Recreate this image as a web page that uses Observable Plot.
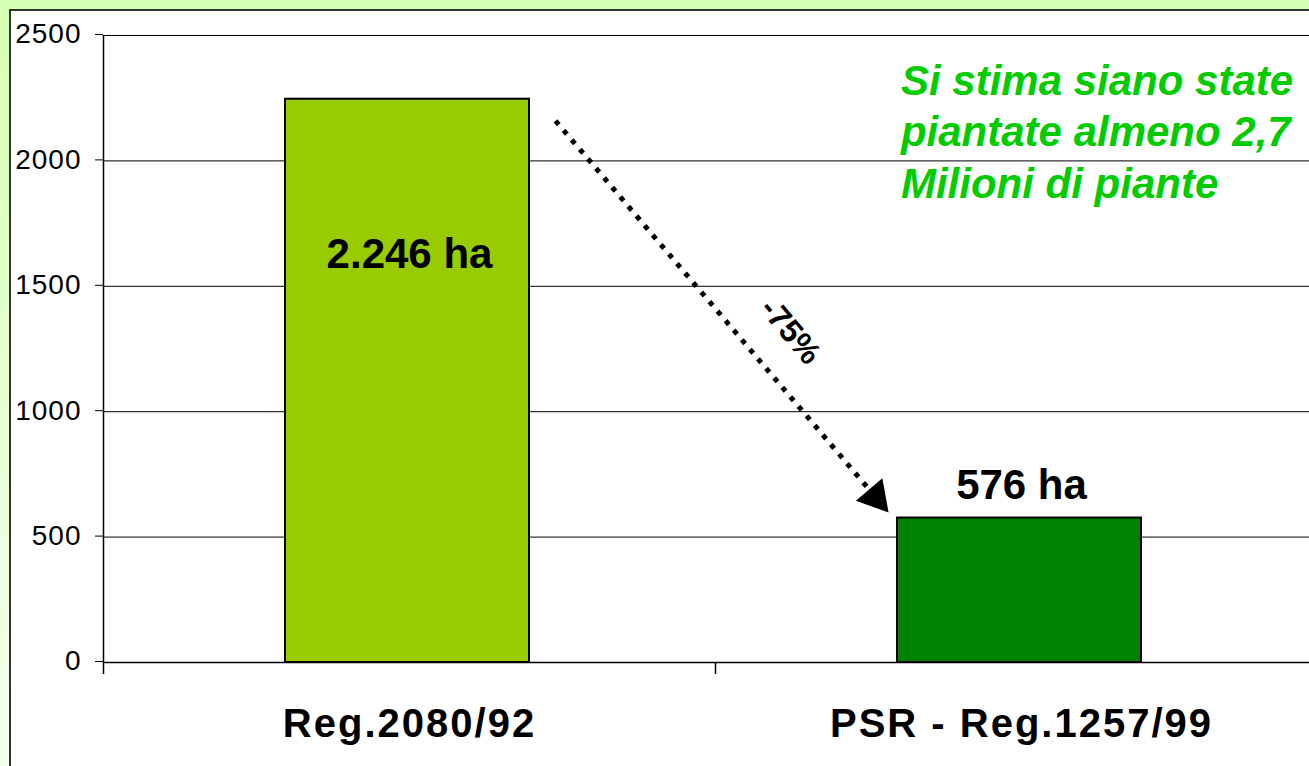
<!DOCTYPE html>
<html>
<head>
<meta charset="utf-8">
<script src="https://cdn.jsdelivr.net/npm/d3@7"></script>
<script src="https://cdn.jsdelivr.net/npm/@observablehq/plot@0.6"></script>
<style>
  html, body { margin: 0; padding: 0; background: #fff; }
  #frame { position: relative; width: 1309px; height: 766px; overflow: hidden;
           background: linear-gradient(#d6ffb4, #f6ffef); }
  #card { position: absolute; left: 9px; top: 9px; width: 1330px; height: 790px;
          background: #fff; border: 2px solid #333; }
  #card svg { display: block; }
  g[aria-label="x-axis tick label"] text { letter-spacing: 2px; }
  g[aria-label="y-axis tick label"] text { letter-spacing: 1px; }
  g[aria-label="value label"] text { letter-spacing: 1px; }
  g[aria-label="note"] text { letter-spacing: 0.9px; }
</style>
</head>
<body>
<div id="frame"><div id="card"></div></div>
<script>
// ---- data ----
const categories = ["Reg.2080/92", "PSR - Reg.1257/99"];
const hectares = [2246, 576];
const valueLabels = ["2.246 ha", "576 ha"];
const barColors = ["#99cc00", "#008000"];
const yTicks = [0, 500, 1000, 1500, 2000, 2500];
const noteLines = ["Si stima siano state", "piantate almeno 2,7", "Milioni di piante"];
const changeLabel = "-75%";

// ---- annotation anchors (x: category slots 0..2, y: hectares) ----
const arrowLine = [{x: 0.7386, y: 2160}, {x: 1.2511, y: 690}];
const arrowHead = [{x: 1.2616, y: 659}];
const changePos = [{x: 1.1225, y: 1320}];
const notePos = [{x: 1.303, y: 2410}];

const idx = categories.map((_, i) => i);
const font = "'Liberation Sans', Arial, Helvetica, sans-serif";

const chart = Plot.plot({
  width: 1320,
  height: 755,
  marginLeft: 92,
  marginRight: 4,
  marginTop: 24,
  marginBottom: 104,
  x: {domain: [0, categories.length]},
  y: {domain: [yTicks[0], yTicks[yTicks.length - 1]]},
  style: {fontFamily: font, background: "transparent", color: "#000", overflow: "visible"},
  marks: [
    Plot.gridY({ticks: yTicks, stroke: "#000", strokeOpacity: 1, strokeWidth: 1}),
    Plot.rectY(idx, {
      x1: i => i, x2: i => i + 1, y1: 0, y2: i => hectares[i],
      fill: i => barColors[i], stroke: "#000", strokeWidth: 2,
      insetLeft: 182, insetRight: 186
    }),
    Plot.ruleY([yTicks[0]], {stroke: "#000", strokeWidth: 1.5}),
    Plot.ruleX([0], {y1: yTicks[0], y2: yTicks[yTicks.length - 1], stroke: "#000", strokeWidth: 1.5}),
    Plot.axisY({ticks: yTicks, tickSize: 8, tickPadding: 14, fontSize: 28, label: null, dy: -1, tickFormat: d => String(d)}),
    Plot.axisX({ticks: d3.range(categories.length + 1), tickSize: 12, tickFormat: () => "", label: null, strokeWidth: 1.5}),
    Plot.axisX({
      ticks: idx.map(i => i + 0.5), tickSize: 0, tickPadding: 46,
      tickFormat: d => categories[Math.floor(d)], fontSize: 40, fontWeight: "bold", label: null
    }),
    Plot.text(idx.filter(i => hectares[i] > 1000), {
      x: i => i + 0.5, y: i => hectares[i], text: i => valueLabels[i],
      dy: 155, fontSize: 42, fontWeight: "bold", fill: "#000", ariaLabel: "value label"
    }),
    Plot.text(idx.filter(i => hectares[i] <= 1000), {
      x: i => i + 0.5, y: i => hectares[i], text: i => valueLabels[i],
      dy: -32, fontSize: 42, fontWeight: "bold", fill: "#000", ariaLabel: "value label"
    }),
    Plot.link([arrowLine], {
      x1: d => d[0].x, y1: d => d[0].y, x2: d => d[1].x, y2: d => d[1].y,
      stroke: "#000", strokeWidth: 5, strokeDasharray: "5 7.5", strokeLinecap: "butt"
    }),
    Plot.dot(arrowHead, {x: "x", y: "y", symbol: "triangle", r: 12.9, fill: "#000", stroke: "none", rotate: 139.6}),
    Plot.text(changePos, {x: "x", y: "y", text: () => changeLabel, rotate: 50, fontSize: 32, fontWeight: "bold", fill: "#000"}),
    Plot.text(notePos, {
      x: "x", y: "y", text: () => noteLines.join("\n"),
      textAnchor: "start", lineAnchor: "top", lineHeight: 1.23,
      fontSize: 42, fontWeight: "bold", fontStyle: "italic", fill: "#00cc00", ariaLabel: "note"
    })
  ]
});
document.getElementById("card").appendChild(chart);
</script>
</body>
</html>
